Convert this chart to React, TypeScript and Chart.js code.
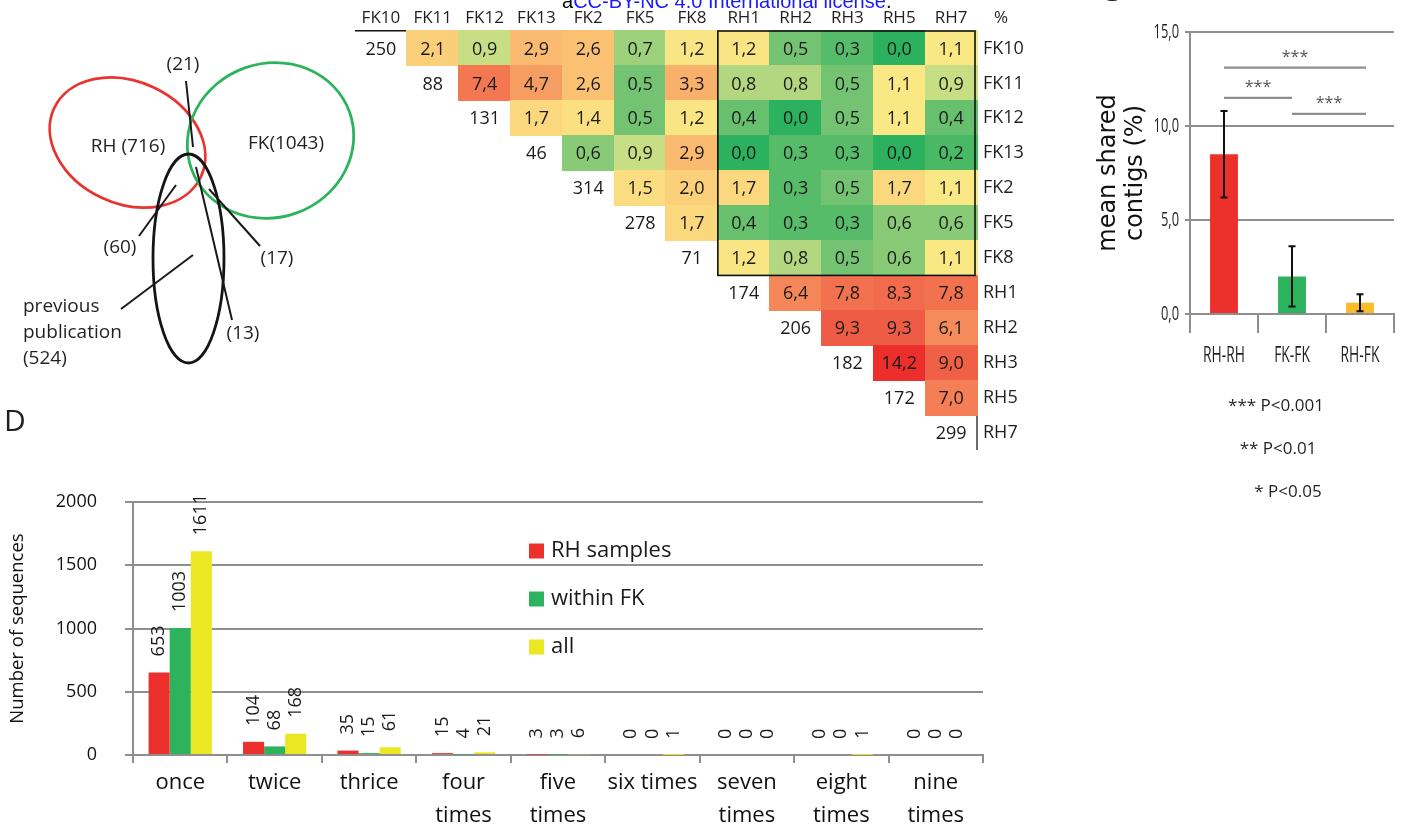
import React, { useEffect, useRef } from 'react';
import { Chart, registerables } from 'chart.js';

Chart.register(...registerables);

// ---------------- data ----------------

// Venn: contigs found in RH samples, FK samples and a previous publication
const vennSetNames = ['RH', 'FK', 'previous publication'];
const vennSetCounts = [716, 1043, 524];
// RH∩FK, RH∩previous, FK∩previous, all three
const vennOverlapCounts = [21, 60, 17, 13];

// Shared contigs between samples (%), upper triangle; diagonal = contigs per sample
const sampleLabels = ['FK10', 'FK11', 'FK12', 'FK13', 'FK2', 'FK5', 'FK8', 'RH1', 'RH2', 'RH3', 'RH5', 'RH7'];
const sampleContigs = [250, 88, 131, 46, 314, 278, 71, 174, 206, 182, 172, 299];
const sharedFK10 = [2.1, 0.9, 2.9, 2.6, 0.7, 1.2, 1.2, 0.5, 0.3, 0.0, 1.1];
const sharedFK11 = [7.4, 4.7, 2.6, 0.5, 3.3, 0.8, 0.8, 0.5, 1.1, 0.9];
const sharedFK12 = [1.7, 1.4, 0.5, 1.2, 0.4, 0.0, 0.5, 1.1, 0.4];
const sharedFK13 = [0.6, 0.9, 2.9, 0.0, 0.3, 0.3, 0.0, 0.2];
const sharedFK2 = [1.5, 2.0, 1.7, 0.3, 0.5, 1.7, 1.1];
const sharedFK5 = [1.7, 0.4, 0.3, 0.3, 0.6, 0.6];
const sharedFK8 = [1.2, 0.8, 0.5, 0.6, 1.1];
const sharedRH1 = [6.4, 7.8, 8.3, 7.8];
const sharedRH2 = [9.3, 9.3, 6.1];
const sharedRH3 = [14.2, 9.0];
const sharedRH5 = [7.0];
const sharedRH7: number[] = [];
const sharedRows = [sharedFK10, sharedFK11, sharedFK12, sharedFK13, sharedFK2, sharedFK5, sharedFK8, sharedRH1, sharedRH2, sharedRH3, sharedRH5, sharedRH7];

// Mean shared contigs per comparison group
const pairGroups = ['RH-RH', 'FK-FK', 'RH-FK'];
const meanShared = [8.5, 2.0, 0.6];
const sharedSd = [2.3, 1.6, 0.45];
const sigComparisons = [[0, 2], [0, 1], [1, 2]];
const sigMarks = ['***', '***', '***'];
const pLegend = ['*** P<0.001', '** P<0.01', '* P<0.05'];

// D: how often a sequence occurs across samples
const repeatLabels = ['once', 'twice', 'thrice', ['four', 'times'], ['five', 'times'], 'six times', ['seven', 'times'], ['eight', 'times'], ['nine', 'times']];
const seriesNames = ['RH samples', 'within FK', 'all'];
const rhCounts = [653, 104, 35, 15, 3, 0, 0, 0, 0];
const fkCounts = [1003, 68, 15, 4, 3, 0, 0, 0, 0];
const allCounts = [1611, 168, 61, 21, 6, 1, 0, 1, 0];

// ---------------- styles & layout ----------------

const INK = '#231f20';
const SANS = '"Open Sans", "Noto Sans", sans-serif';
const RED = '#ec312d';
const GREEN = '#2db35d';
const YELLOW = '#ebe723';
const ORANGE = '#fbbb2a';
const AXIS_GREY = '#8f8f8f';

const fmtComma = (v: number) => v.toFixed(1).replace('.', ',');

// colour scale for the shared-contig matrix (green -> yellow -> red)
const heatStops: [number, number[]][] = [
  [0.0, [44, 178, 94]],
  [0.5, [116, 195, 114]],
  [0.9, [200, 222, 133]],
  [1.1, [250, 232, 133]],
  [2.0, [251, 208, 122]],
  [3.3, [249, 176, 106]],
  [4.7, [246, 157, 97]],
  [7.0, [244, 126, 85]],
  [9.3, [238, 92, 69]],
  [14.2, [236, 46, 44]],
];
function heatColor(v: number) {
  for (let i = 1; i < heatStops.length; i++) {
    const [v1, c1] = heatStops[i];
    const [v0, c0] = heatStops[i - 1];
    if (v <= v1) {
      const t = (v - v0) / (v1 - v0);
      const c = c0.map((a, k) => Math.round(a + (c1[k] - a) * t));
      return `rgb(${c[0]},${c[1]},${c[2]})`;
    }
  }
  const c = heatStops[heatStops.length - 1][1];
  return `rgb(${c[0]},${c[1]},${c[2]})`;
}

// Venn geometry, in canvas units
const vennShapes = [
  { cx: 127.5, cy: 142.5, rx: 81, ry: 61, rot: 25, color: '#e8332f' },
  { cx: 270.5, cy: 140.5, rx: 84, ry: 77, rot: -20, color: '#2db35b' },
  { cx: 188.5, cy: 258.5, rx: 35.5, ry: 104.5, rot: 0, color: '#141414' },
];
const vennNamePos = [
  { x: 128, y: 147 },
  { x: 286, y: 144 },
  { x: 23, y: 307 },
];
const vennLeaders = [
  { from: [186, 81], to: [193, 147], label: [183, 65] },
  { from: [139, 236], to: [176, 185], label: [120, 248] },
  { from: [260, 246], to: [209, 189], label: [277, 259] },
  { from: [232, 320], to: [196, 167], label: [243, 334] },
];
const vennSetLeader = { from: [121, 309], to: [193, 255] };

// y levels (data units) of the significance brackets
const bracketLevels = [13.1, 11.5, 10.65];

// draws text squeezed horizontally (condensed look)
function condensedText(ctx: CanvasRenderingContext2D, text: string, x: number, y: number, squeeze: number) {
  ctx.save();
  ctx.translate(x, y);
  ctx.scale(squeeze, 1);
  ctx.fillText(text, 0, 0);
  ctx.restore();
}

// ---------------- plugins ----------------

const vennPlugin = {
  id: 'vennShapes',
  afterDraw(chart: any) {
    const { ctx } = chart;
    const X = (v: number) => chart.scales.x.getPixelForValue(v);
    const Y = (v: number) => chart.scales.y.getPixelForValue(v);
    ctx.save();
    vennShapes.forEach((s) => {
      ctx.beginPath();
      ctx.ellipse(X(s.cx), Y(s.cy), X(s.cx + s.rx) - X(s.cx), Y(s.cy + s.ry) - Y(s.cy), (s.rot * Math.PI) / 180, 0, Math.PI * 2);
      ctx.strokeStyle = s.color;
      ctx.lineWidth = 2.8;
      ctx.stroke();
    });
    ctx.strokeStyle = '#1a1a1a';
    ctx.lineWidth = 2;
    const segs = [...vennLeaders, vennSetLeader];
    segs.forEach((l) => {
      ctx.beginPath();
      ctx.moveTo(X(l.from[0]), Y(l.from[1]));
      ctx.lineTo(X(l.to[0]), Y(l.to[1]));
      ctx.stroke();
    });
    ctx.fillStyle = INK;
    ctx.font = `19px ${SANS}`;
    ctx.textBaseline = 'middle';
    ctx.textAlign = 'center';
    ctx.fillText(`${vennSetNames[0]} (${vennSetCounts[0]})`, X(vennNamePos[0].x), Y(vennNamePos[0].y));
    ctx.fillText(`${vennSetNames[1]}(${vennSetCounts[1]})`, X(vennNamePos[1].x), Y(vennNamePos[1].y));
    vennLeaders.forEach((l, i) => {
      ctx.fillText(`(${vennOverlapCounts[i]})`, X(l.label[0]), Y(l.label[1]));
    });
    ctx.textAlign = 'left';
    const prevLines = [...vennSetNames[2].split(' '), `(${vennSetCounts[2]})`];
    prevLines.forEach((t, i) => {
      ctx.fillText(t, X(vennNamePos[2].x), Y(vennNamePos[2].y + i * 26));
    });
    ctx.restore();
  },
};

const heatPlugin = {
  id: 'heatCells',
  afterDatasetsDraw(chart: any) {
    const { ctx, chartArea } = chart;
    const xs = chart.scales.x;
    const ys = chart.scales.y;
    const cw = (xs.right - xs.left) / sampleLabels.length;
    const ch = (ys.bottom - ys.top) / sampleLabels.length;
    const raw = chart.data.datasets[0].data;
    const meta = chart.getDatasetMeta(0);
    ctx.save();
    meta.data.forEach((pt: any, i: number) => {
      const cell = raw[i];
      if (cell.pct == null) return;
      const { x, y } = pt.getProps(['x', 'y'], true);
      ctx.fillStyle = heatColor(cell.pct);
      ctx.fillRect(Math.floor(x - cw / 2), Math.floor(y - ch / 2), Math.ceil(cw) + 1, Math.ceil(ch) + 1);
    });
    ctx.fillStyle = '#1a1a1a';
    ctx.font = `18px ${SANS}`;
    ctx.textAlign = 'center';
    ctx.textBaseline = 'middle';
    meta.data.forEach((pt: any, i: number) => {
      const cell = raw[i];
      const { x, y } = pt.getProps(['x', 'y'], true);
      const text = cell.pct != null ? fmtComma(cell.pct) : String(cell.total);
      ctx.fillText(text, x, y + 1);
    });
    // frame around the FK x RH block
    const bx = xs.getPixelForValue(6) + cw / 2;
    const by = ys.getPixelForValue(6) + ch / 2;
    ctx.strokeStyle = '#111';
    ctx.lineWidth = 1.6;
    ctx.strokeRect(bx, chartArea.top, chartArea.right - 2 - bx, by - chartArea.top);
    // unit header above the row labels
    ctx.fillStyle = INK;
    ctx.font = `17px ${SANS}`;
    ctx.fillText('%', chartArea.right + 24, chartArea.top - 13);
    ctx.restore();
  },
};

const meanPlugin = {
  id: 'meanExtras',
  afterDatasetsDraw(chart: any) {
    const { ctx, chartArea } = chart;
    const ys = chart.scales.y;
    const xs = chart.scales.x;
    const meta = chart.getDatasetMeta(0);
    ctx.save();
    // standard deviation whiskers
    ctx.strokeStyle = '#111';
    ctx.lineWidth = 2;
    meta.data.forEach((bar: any, i: number) => {
      const x = bar.x;
      const top = ys.getPixelForValue(meanShared[i] + sharedSd[i]);
      const bot = ys.getPixelForValue(meanShared[i] - sharedSd[i]);
      ctx.beginPath();
      ctx.moveTo(x, top);
      ctx.lineTo(x, bot);
      ctx.moveTo(x - 3.5, top);
      ctx.lineTo(x + 3.5, top);
      ctx.moveTo(x - 3.5, bot);
      ctx.lineTo(x + 3.5, bot);
      ctx.stroke();
    });
    // significance brackets
    ctx.strokeStyle = AXIS_GREY;
    ctx.lineWidth = 2.2;
    ctx.fillStyle = '#555';
    ctx.font = `16px ${SANS}`;
    ctx.textAlign = 'center';
    ctx.textBaseline = 'alphabetic';
    sigComparisons.forEach(([a, b], k) => {
      const x0 = xs.getPixelForValue(a);
      const x1 = xs.getPixelForValue(b) + (b === 2 ? 6 : 0);
      const y = ys.getPixelForValue(bracketLevels[k]);
      ctx.beginPath();
      ctx.moveTo(x0, y);
      ctx.lineTo(x1, y);
      ctx.stroke();
      ctx.fillText(sigMarks[k], (x0 + x1) / 2, y - 6);
    });
    // condensed tick labels
    ctx.fillStyle = INK;
    ctx.font = `21px ${SANS}`;
    ctx.textBaseline = 'middle';
    ctx.textAlign = 'center';
    xs.ticks.forEach((_t: any, i: number) => {
      condensedText(ctx, String(chart.data.labels[i]), xs.getPixelForTick(i), xs.top + 42, 0.66);
    });
    ctx.font = `19.5px ${SANS}`;
    ctx.textAlign = 'right';
    ys.ticks.forEach((t: any, i: number) => {
      condensedText(ctx, fmtComma(t.value), chartArea.left - 11, ys.getPixelForTick(i), 0.66);
    });
    // p-value key
    ctx.font = `17px ${SANS}`;
    ctx.textAlign = 'center';
    const keyX = [86, 88, 98];
    pLegend.forEach((t, k) => {
      ctx.fillText(t, chartArea.left + keyX[k], 406 + k * 43);
    });
    ctx.restore();
  },
};

const barValuePlugin = {
  id: 'barValues',
  afterDatasetsDraw(chart: any) {
    const { ctx, chartArea } = chart;
    ctx.save();
    ctx.fillStyle = '#1a1a1a';
    ctx.font = `18px ${SANS}`;
    ctx.textAlign = 'left';
    ctx.textBaseline = 'middle';
    chart.data.datasets.forEach((ds: any, di: number) => {
      const meta = chart.getDatasetMeta(di);
      meta.data.forEach((bar: any, i: number) => {
        ctx.save();
        ctx.translate(bar.x, bar.y - 16);
        ctx.rotate(-Math.PI / 2);
        ctx.fillText(String(ds.data[i]), 0, 0);
        ctx.restore();
      });
    });
    // series key inside the plot
    ctx.font = `22px ${SANS}`;
    chart.data.datasets.forEach((ds: any, di: number) => {
      const lx = chartArea.left + 396;
      const ly = chartArea.top + 49 + di * 48;
      ctx.fillStyle = ds.backgroundColor;
      ctx.fillRect(lx, ly - 7.5, 15, 15);
      ctx.fillStyle = '#1a1a1a';
      ctx.fillText(ds.label, lx + 22, ly);
    });
    ctx.restore();
  },
};

// ---------------- chart configs ----------------

function vennConfig(): any {
  return {
    type: 'scatter',
    data: { datasets: [] },
    options: {
      responsive: false,
      animation: false,
      layout: { padding: 0 },
      plugins: { legend: { display: false }, tooltip: { enabled: false } },
      scales: {
        x: { type: 'linear', min: 0, max: 362, display: false },
        y: { type: 'linear', min: 0, max: 420, reverse: true, display: false },
      },
    },
    plugins: [vennPlugin],
  };
}

function heatConfig(): any {
  const cells: any[] = [];
  sampleLabels.forEach((rowLabel, r) => {
    cells.push({ x: rowLabel, y: rowLabel, total: sampleContigs[r] });
    sharedRows[r].forEach((v, k) => {
      cells.push({ x: sampleLabels[r + 1 + k], y: rowLabel, pct: v });
    });
  });
  return {
    type: 'scatter',
    data: { datasets: [{ data: cells, pointRadius: 0, pointHoverRadius: 0 }] },
    options: {
      responsive: false,
      animation: false,
      layout: { padding: 0 },
      plugins: { legend: { display: false }, tooltip: { enabled: false } },
      scales: {
        x: {
          type: 'category',
          labels: sampleLabels,
          position: 'top',
          offset: true,
          grid: { display: false, drawTicks: false },
          border: { display: true, color: '#111', width: 1.6 },
          ticks: { autoSkip: false, maxRotation: 0, padding: 3, font: { family: SANS, size: 17 }, color: INK },
          afterFit: (s: any) => { s.height = 31; s.paddingLeft = 0; s.paddingRight = 0; },
        },
        y: {
          type: 'category',
          labels: sampleLabels,
          position: 'right',
          offset: true,
          grid: { display: false, drawTicks: false },
          border: { display: true, color: '#6b6b6b', width: 2 },
          ticks: { autoSkip: false, padding: 6, font: { family: SANS, size: 18 }, color: INK },
          afterFit: (s: any) => { s.width = 60; s.paddingTop = 0; s.paddingBottom = 0; },
        },
      },
    },
    plugins: [heatPlugin],
  };
}

function meanConfig(): any {
  return {
    type: 'bar',
    data: {
      labels: pairGroups,
      datasets: [{ data: meanShared, backgroundColor: [RED, GREEN, ORANGE], barPercentage: 0.41, categoryPercentage: 1 }],
    },
    options: {
      responsive: false,
      animation: false,
      layout: { padding: { top: 32, right: 12, bottom: 146, left: 0 } },
      plugins: { legend: { display: false }, tooltip: { enabled: false } },
      scales: {
        x: {
          grid: { offset: true, drawOnChartArea: false, tickLength: 19, color: AXIS_GREY, lineWidth: 2 },
          border: { display: true, color: AXIS_GREY, width: 2 },
          ticks: { display: false },
          afterFit: (s: any) => { s.height = 60; s.paddingLeft = 0; s.paddingRight = 0; },
        },
        y: {
          min: 0,
          max: 15,
          ticks: { stepSize: 5, display: false },
          grid: { color: AXIS_GREY, lineWidth: 2, tickLength: 5 },
          border: { display: true, color: AXIS_GREY, width: 2 },
          title: {
            display: true,
            text: ['mean shared', 'contigs (%)'],
            font: { family: '"DejaVu Sans", sans-serif', size: 24, lineHeight: 1.1 },
            padding: { top: 16, bottom: 0 },
            color: '#111',
          },
          afterFit: (s: any) => { s.width = 110; s.paddingTop = 0; s.paddingBottom = 0; },
        },
      },
    },
    plugins: [meanPlugin],
  };
}

function repeatConfig(): any {
  return {
    type: 'bar',
    data: {
      labels: repeatLabels,
      datasets: [
        { label: seriesNames[0], data: rhCounts, backgroundColor: RED },
        { label: seriesNames[1], data: fkCounts, backgroundColor: GREEN },
        { label: seriesNames[2], data: allCounts, backgroundColor: YELLOW },
      ],
    },
    options: {
      responsive: false,
      animation: false,
      datasets: { bar: { categoryPercentage: 0.67, barPercentage: 1 } },
      layout: { padding: { top: 22, right: 17, bottom: 0, left: 0 } },
      plugins: { legend: { display: false }, tooltip: { enabled: false } },
      scales: {
        x: {
          grid: { offset: true, drawOnChartArea: false, tickLength: 8, color: AXIS_GREY, lineWidth: 2 },
          border: { display: true, color: AXIS_GREY, width: 2 },
          ticks: { autoSkip: false, maxRotation: 0, padding: 3, font: { family: SANS, size: 22, lineHeight: 1.5 }, color: '#111' },
          afterFit: (s: any) => { s.height = 77; s.paddingLeft = 0; s.paddingRight = 0; },
        },
        y: {
          min: 0,
          max: 2000,
          ticks: { stepSize: 500, padding: 28, font: { family: SANS, size: 18 }, color: '#111', callback: (v: number) => String(v) },
          grid: { color: AXIS_GREY, lineWidth: 2, tickLength: 8 },
          border: { display: true, color: AXIS_GREY, width: 2 },
          title: { display: true, text: 'Number of sequences', font: { family: SANS, size: 18.5 }, padding: { top: 7, bottom: 0 }, color: '#111' },
          afterFit: (s: any) => { s.width = 133; s.paddingTop = 0; s.paddingBottom = 0; },
        },
      },
    },
    plugins: [barValuePlugin],
  };
}

// ---------------- components ----------------

function ChartCanvas({ left, top, width, height, make }: { left: number; top: number; width: number; height: number; make: () => any }) {
  const ref = useRef<HTMLCanvasElement>(null);
  useEffect(() => {
    const chart = new Chart(ref.current as HTMLCanvasElement, make());
    return () => chart.destroy();
  }, []);
  return (
    <canvas
      ref={ref}
      width={width}
      height={height}
      style={{ position: 'absolute', left, top, width, height }}
    />
  );
}

export default function App() {
  return (
    <div style={{ position: 'absolute', left: 0, top: 0, width: 1406, height: 832, overflow: 'hidden', background: '#fff' }}>
      <ChartCanvas left={0} top={0} width={362} height={420} make={vennConfig} />
      <ChartCanvas left={355} top={0} width={682} height={450} make={heatConfig} />
      <ChartCanvas left={1080} top={0} width={326} height={520} make={meanConfig} />
      <ChartCanvas left={0} top={480} width={1000} height={352} make={repeatConfig} />
      <div
        style={{
          position: 'absolute', left: 562, top: -9, font: '20px "Liberation Sans", Arial, sans-serif',
          lineHeight: '20px', whiteSpace: 'nowrap', color: '#000',
        }}
      >
        a<span style={{ color: '#1a1aff' }}>CC-BY-NC 4.0 International license</span>.
      </div>
      <div style={{ position: 'absolute', left: 1100, top: -25, font: `30px ${SANS}`, lineHeight: '30px', color: INK }}>C</div>
      <div style={{ position: 'absolute', left: 4, top: 405, font: `30px ${SANS}`, lineHeight: '30px', color: INK }}>D</div>
    </div>
  );
}
